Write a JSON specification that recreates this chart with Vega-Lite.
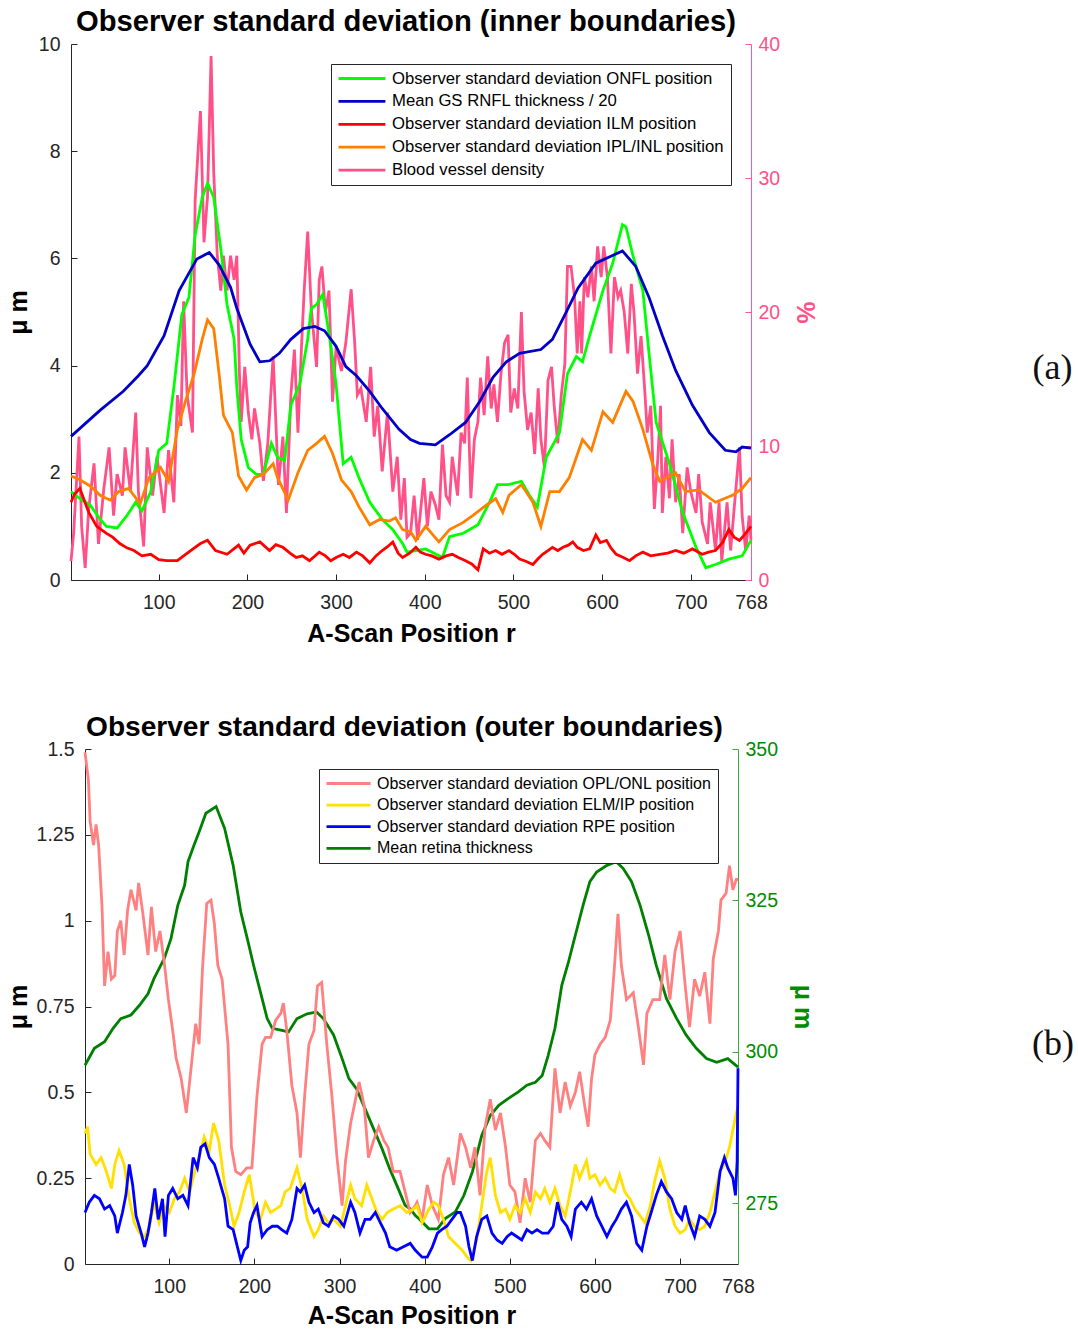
{
  "$schema": "https://vega.github.io/schema/vega-lite/v6.json",
  "padding": {"left": 6, "top": 7, "right": 5, "bottom": 0},
  "config": {
    "view": {"stroke": null},
    "font": "Liberation Sans",
    "title": {"font": "Liberation Sans", "fontSize": 28.5, "fontWeight": "bold", "color": "#000000", "offset": -3},
    "line": {"strokeWidth": 2.8},
    "axis": {"grid": false, "labelFont": "Liberation Sans", "labelFontSize": 19.5, "labelColor": "#262626", "domainColor": "#262626", "tickColor": "#262626", "tickSize": -6, "labelPadding": 17, "titleFont": "Liberation Sans", "titleFontSize": 25, "titleFontWeight": "bold", "titleColor": "#000000", "titlePadding": 7, "labelFlush": false, "labelOverlap": false, "domainWidth": 1, "tickWidth": 1},
    "axisX": {"labelPadding": 19, "titlePadding": 10},
    "legend": {"strokeColor": "#262626", "fillColor": "#ffffff", "padding": 6, "labelFont": "Liberation Sans", "labelFontSize": 16.7, "labelColor": "#000000", "symbolStrokeWidth": 2.5, "symbolSize": 196, "orient": "top-right", "offset": 20, "labelLimit": 600, "cornerRadius": 0}
  },
  "datasets": {
    "a_green": [{"r":1,"v":1.65},{"r":11,"v":1.52},{"r":23,"v":1.39},{"r":34,"v":1.13},{"r":41,"v":1.0},{"r":53,"v":0.97},{"r":64,"v":1.2},{"r":74,"v":1.45},{"r":81,"v":1.29},{"r":91,"v":1.65},{"r":100,"v":2.42},{"r":109,"v":2.55},{"r":117,"v":3.59},{"r":126,"v":4.95},{"r":134,"v":5.27},{"r":141,"v":6.43},{"r":149,"v":7.14},{"r":155,"v":7.4},{"r":162,"v":7.14},{"r":170,"v":6.17},{"r":177,"v":5.14},{"r":185,"v":4.49},{"r":188,"v":3.6},{"r":193,"v":2.62},{"r":201,"v":2.1},{"r":210,"v":1.97},{"r":218,"v":1.97},{"r":227,"v":2.55},{"r":234,"v":2.29},{"r":242,"v":2.23},{"r":249,"v":3.26},{"r":259,"v":3.65},{"r":268,"v":4.49},{"r":272,"v":5.07},{"r":278,"v":5.14},{"r":285,"v":5.33},{"r":293,"v":4.49},{"r":300,"v":3.65},{"r":308,"v":2.17},{"r":317,"v":2.29},{"r":326,"v":1.9},{"r":338,"v":1.45},{"r":352,"v":1.13},{"r":364,"v":0.94},{"r":375,"v":0.68},{"r":380,"v":0.52},{"r":390,"v":0.55},{"r":401,"v":0.58},{"r":420,"v":0.42},{"r":428,"v":0.81},{"r":443,"v":0.87},{"r":460,"v":1.03},{"r":473,"v":1.45},{"r":482,"v":1.78},{"r":494,"v":1.78},{"r":509,"v":1.84},{"r":518,"v":1.58},{"r":527,"v":1.36},{"r":537,"v":2.29},{"r":552,"v":2.75},{"r":561,"v":3.85},{"r":571,"v":4.17},{"r":578,"v":4.07},{"r":586,"v":4.56},{"r":601,"v":5.4},{"r":612,"v":5.91},{"r":623,"v":6.63},{"r":627,"v":6.59},{"r":635,"v":6.04},{"r":646,"v":5.4},{"r":653,"v":4.23},{"r":661,"v":2.94},{"r":676,"v":2.17},{"r":691,"v":1.26},{"r":706,"v":0.61},{"r":717,"v":0.23},{"r":728,"v":0.29},{"r":743,"v":0.39},{"r":758,"v":0.45},{"r":768,"v":0.74}],
    "a_blue": [{"r":1,"v":2.68},{"r":34,"v":3.17},{"r":60,"v":3.52},{"r":77,"v":3.81},{"r":87,"v":4.0},{"r":106,"v":4.56},{"r":123,"v":5.4},{"r":143,"v":5.99},{"r":157,"v":6.11},{"r":168,"v":5.88},{"r":181,"v":5.46},{"r":188,"v":5.07},{"r":203,"v":4.4},{"r":214,"v":4.07},{"r":225,"v":4.09},{"r":236,"v":4.23},{"r":249,"v":4.49},{"r":263,"v":4.69},{"r":276,"v":4.73},{"r":287,"v":4.65},{"r":300,"v":4.36},{"r":311,"v":3.98},{"r":323,"v":3.81},{"r":338,"v":3.52},{"r":352,"v":3.2},{"r":371,"v":2.81},{"r":384,"v":2.62},{"r":394,"v":2.55},{"r":412,"v":2.52},{"r":428,"v":2.71},{"r":446,"v":2.94},{"r":462,"v":3.33},{"r":477,"v":3.78},{"r":492,"v":4.07},{"r":507,"v":4.23},{"r":531,"v":4.3},{"r":544,"v":4.49},{"r":560,"v":5.01},{"r":573,"v":5.45},{"r":593,"v":5.91},{"r":623,"v":6.14},{"r":638,"v":5.85},{"r":653,"v":5.27},{"r":668,"v":4.56},{"r":683,"v":3.91},{"r":702,"v":3.26},{"r":721,"v":2.75},{"r":739,"v":2.42},{"r":751,"v":2.39},{"r":758,"v":2.48},{"r":768,"v":2.46}],
    "a_red": [{"r":1,"v":1.45},{"r":5,"v":1.6},{"r":11,"v":1.71},{"r":21,"v":1.26},{"r":30,"v":1.0},{"r":41,"v":0.87},{"r":48,"v":0.8},{"r":56,"v":0.68},{"r":64,"v":0.6},{"r":72,"v":0.55},{"r":81,"v":0.45},{"r":91,"v":0.48},{"r":100,"v":0.38},{"r":109,"v":0.36},{"r":121,"v":0.36},{"r":128,"v":0.45},{"r":136,"v":0.55},{"r":147,"v":0.68},{"r":155,"v":0.74},{"r":164,"v":0.55},{"r":177,"v":0.48},{"r":190,"v":0.65},{"r":196,"v":0.5},{"r":203,"v":0.65},{"r":214,"v":0.71},{"r":225,"v":0.55},{"r":232,"v":0.66},{"r":240,"v":0.61},{"r":248,"v":0.5},{"r":255,"v":0.42},{"r":262,"v":0.45},{"r":270,"v":0.36},{"r":281,"v":0.52},{"r":288,"v":0.45},{"r":294,"v":0.36},{"r":300,"v":0.42},{"r":308,"v":0.48},{"r":315,"v":0.42},{"r":323,"v":0.52},{"r":330,"v":0.45},{"r":338,"v":0.32},{"r":345,"v":0.45},{"r":352,"v":0.55},{"r":358,"v":0.62},{"r":364,"v":0.71},{"r":370,"v":0.5},{"r":375,"v":0.42},{"r":383,"v":0.5},{"r":390,"v":0.61},{"r":395,"v":0.52},{"r":401,"v":0.48},{"r":408,"v":0.45},{"r":416,"v":0.39},{"r":424,"v":0.45},{"r":431,"v":0.48},{"r":438,"v":0.42},{"r":446,"v":0.36},{"r":453,"v":0.3},{"r":460,"v":0.19},{"r":466,"v":0.58},{"r":473,"v":0.5},{"r":480,"v":0.55},{"r":487,"v":0.48},{"r":495,"v":0.55},{"r":501,"v":0.48},{"r":507,"v":0.39},{"r":514,"v":0.35},{"r":522,"v":0.29},{"r":528,"v":0.4},{"r":533,"v":0.48},{"r":539,"v":0.55},{"r":544,"v":0.61},{"r":550,"v":0.55},{"r":556,"v":0.61},{"r":562,"v":0.65},{"r":567,"v":0.71},{"r":572,"v":0.61},{"r":579,"v":0.55},{"r":586,"v":0.58},{"r":593,"v":0.84},{"r":598,"v":0.7},{"r":605,"v":0.74},{"r":610,"v":0.6},{"r":616,"v":0.48},{"r":624,"v":0.42},{"r":631,"v":0.36},{"r":638,"v":0.45},{"r":646,"v":0.52},{"r":655,"v":0.45},{"r":665,"v":0.48},{"r":674,"v":0.5},{"r":683,"v":0.55},{"r":692,"v":0.5},{"r":702,"v":0.58},{"r":713,"v":0.48},{"r":720,"v":0.52},{"r":728,"v":0.55},{"r":736,"v":0.7},{"r":743,"v":0.94},{"r":749,"v":0.8},{"r":755,"v":0.74},{"r":761,"v":0.85},{"r":768,"v":1.0}],
    "a_orange": [{"r":1,"v":1.94},{"r":11,"v":1.87},{"r":23,"v":1.75},{"r":34,"v":1.58},{"r":45,"v":1.49},{"r":55,"v":1.65},{"r":66,"v":1.71},{"r":79,"v":1.42},{"r":89,"v":1.91},{"r":102,"v":2.1},{"r":111,"v":1.84},{"r":121,"v":2.81},{"r":130,"v":3.33},{"r":140,"v":3.85},{"r":149,"v":4.49},{"r":155,"v":4.85},{"r":162,"v":4.69},{"r":168,"v":3.85},{"r":173,"v":3.07},{"r":183,"v":2.75},{"r":190,"v":1.94},{"r":199,"v":1.68},{"r":208,"v":1.91},{"r":218,"v":1.97},{"r":229,"v":2.17},{"r":234,"v":1.91},{"r":246,"v":1.49},{"r":257,"v":2.0},{"r":268,"v":2.42},{"r":278,"v":2.55},{"r":287,"v":2.68},{"r":296,"v":2.36},{"r":306,"v":1.87},{"r":317,"v":1.65},{"r":326,"v":1.36},{"r":338,"v":1.03},{"r":349,"v":1.13},{"r":360,"v":1.1},{"r":367,"v":1.16},{"r":375,"v":0.94},{"r":384,"v":0.9},{"r":390,"v":0.74},{"r":401,"v":1.0},{"r":416,"v":0.71},{"r":428,"v":0.94},{"r":443,"v":1.07},{"r":454,"v":1.2},{"r":469,"v":1.39},{"r":480,"v":1.52},{"r":488,"v":1.26},{"r":495,"v":1.58},{"r":509,"v":1.78},{"r":522,"v":1.45},{"r":531,"v":1.0},{"r":541,"v":1.65},{"r":552,"v":1.65},{"r":563,"v":1.91},{"r":571,"v":2.29},{"r":578,"v":2.62},{"r":588,"v":2.42},{"r":601,"v":3.14},{"r":612,"v":2.94},{"r":627,"v":3.52},{"r":635,"v":3.33},{"r":646,"v":2.81},{"r":657,"v":2.17},{"r":665,"v":1.84},{"r":683,"v":2.0},{"r":694,"v":1.65},{"r":709,"v":1.68},{"r":728,"v":1.45},{"r":747,"v":1.58},{"r":758,"v":1.71},{"r":768,"v":1.91}],
    "a_pink": [{"r":1,"v":1.4},{"r":4,"v":3.5},{"r":10,"v":10.7},{"r":13,"v":4.0},{"r":17,"v":0.9},{"r":21,"v":5.3},{"r":27,"v":8.7},{"r":32,"v":2.7},{"r":38,"v":6.8},{"r":44,"v":9.9},{"r":49,"v":4.8},{"r":53,"v":7.9},{"r":59,"v":6.3},{"r":62,"v":9.9},{"r":68,"v":6.6},{"r":74,"v":12.5},{"r":77,"v":6.6},{"r":83,"v":2.5},{"r":87,"v":9.9},{"r":93,"v":6.3},{"r":98,"v":9.2},{"r":106,"v":5.0},{"r":111,"v":9.7},{"r":117,"v":5.8},{"r":121,"v":13.8},{"r":125,"v":11.5},{"r":128,"v":20.8},{"r":132,"v":13.8},{"r":138,"v":11.0},{"r":141,"v":28.3},{"r":147,"v":35.0},{"r":151,"v":25.2},{"r":155,"v":28.6},{"r":159,"v":39.1},{"r":162,"v":30.4},{"r":166,"v":24.2},{"r":170,"v":21.6},{"r":173,"v":24.2},{"r":177,"v":21.6},{"r":181,"v":24.2},{"r":185,"v":22.4},{"r":188,"v":24.2},{"r":191,"v":15.4},{"r":193,"v":11.8},{"r":197,"v":15.9},{"r":201,"v":12.5},{"r":205,"v":10.5},{"r":208,"v":12.8},{"r":214,"v":10.2},{"r":218,"v":7.4},{"r":223,"v":10.2},{"r":229,"v":16.7},{"r":235,"v":7.1},{"r":240,"v":10.7},{"r":244,"v":5.0},{"r":249,"v":13.8},{"r":253,"v":17.2},{"r":257,"v":11.0},{"r":261,"v":17.4},{"r":264,"v":21.6},{"r":268,"v":26.0},{"r":272,"v":20.3},{"r":278,"v":15.9},{"r":281,"v":22.4},{"r":284,"v":23.4},{"r":288,"v":20.0},{"r":292,"v":21.6},{"r":296,"v":13.3},{"r":300,"v":17.4},{"r":306,"v":15.6},{"r":311,"v":17.7},{"r":317,"v":21.7},{"r":321,"v":17.7},{"r":324,"v":13.8},{"r":328,"v":14.3},{"r":334,"v":11.8},{"r":339,"v":15.9},{"r":343,"v":10.7},{"r":347,"v":13.0},{"r":352,"v":8.1},{"r":358,"v":12.5},{"r":364,"v":6.6},{"r":369,"v":9.2},{"r":373,"v":4.5},{"r":377,"v":7.6},{"r":380,"v":3.2},{"r":384,"v":3.5},{"r":388,"v":6.3},{"r":392,"v":3.0},{"r":396,"v":5.6},{"r":399,"v":7.6},{"r":403,"v":4.0},{"r":407,"v":6.6},{"r":412,"v":5.6},{"r":416,"v":4.5},{"r":420,"v":10.1},{"r":424,"v":6.3},{"r":428,"v":5.8},{"r":431,"v":9.2},{"r":437,"v":6.3},{"r":441,"v":11.0},{"r":445,"v":10.2},{"r":448,"v":15.1},{"r":452,"v":6.1},{"r":456,"v":10.5},{"r":460,"v":11.8},{"r":463,"v":15.1},{"r":467,"v":12.3},{"r":471,"v":16.7},{"r":475,"v":12.8},{"r":478,"v":14.6},{"r":482,"v":11.8},{"r":486,"v":15.4},{"r":490,"v":17.7},{"r":494,"v":18.3},{"r":497,"v":12.5},{"r":501,"v":14.3},{"r":505,"v":12.8},{"r":509,"v":20.0},{"r":512,"v":14.1},{"r":516,"v":11.2},{"r":520,"v":12.5},{"r":524,"v":9.4},{"r":528,"v":14.3},{"r":531,"v":10.5},{"r":535,"v":8.4},{"r":539,"v":14.9},{"r":543,"v":15.9},{"r":546,"v":13.0},{"r":550,"v":10.2},{"r":554,"v":13.8},{"r":558,"v":16.1},{"r":561,"v":23.4},{"r":565,"v":23.4},{"r":569,"v":21.1},{"r":572,"v":16.9},{"r":575,"v":20.8},{"r":577,"v":16.9},{"r":580,"v":22.6},{"r":584,"v":21.1},{"r":588,"v":23.4},{"r":591,"v":20.8},{"r":595,"v":24.9},{"r":599,"v":22.6},{"r":602,"v":24.9},{"r":606,"v":22.6},{"r":610,"v":16.9},{"r":614,"v":22.6},{"r":618,"v":21.1},{"r":621,"v":21.6},{"r":625,"v":20.0},{"r":629,"v":16.9},{"r":633,"v":22.1},{"r":636,"v":20.0},{"r":640,"v":15.4},{"r":644,"v":18.2},{"r":648,"v":14.3},{"r":651,"v":11.0},{"r":655,"v":13.0},{"r":659,"v":5.3},{"r":663,"v":9.2},{"r":666,"v":13.0},{"r":668,"v":5.0},{"r":672,"v":9.2},{"r":676,"v":6.1},{"r":679,"v":10.5},{"r":683,"v":5.8},{"r":687,"v":7.9},{"r":691,"v":3.5},{"r":696,"v":8.4},{"r":700,"v":6.6},{"r":706,"v":5.0},{"r":709,"v":7.9},{"r":713,"v":4.3},{"r":719,"v":2.7},{"r":722,"v":5.8},{"r":728,"v":2.2},{"r":732,"v":5.8},{"r":735,"v":1.4},{"r":741,"v":5.8},{"r":745,"v":2.2},{"r":750,"v":6.1},{"r":755,"v":9.9},{"r":758,"v":4.8},{"r":762,"v":2.2},{"r":766,"v":4.8},{"r":768,"v":3.0}],
    "b_salmon": [{"r":1,"v":1.49},{"r":3,"v":1.45},{"r":5,"v":1.41},{"r":7,"v":1.29},{"r":11,"v":1.22},{"r":14,"v":1.28},{"r":17,"v":1.22},{"r":21,"v":1.04},{"r":24,"v":0.81},{"r":28,"v":0.91},{"r":32,"v":0.83},{"r":36,"v":0.84},{"r":39,"v":0.97},{"r":43,"v":1.0},{"r":47,"v":0.9},{"r":51,"v":1.03},{"r":55,"v":1.09},{"r":61,"v":1.03},{"r":64,"v":1.11},{"r":69,"v":1.02},{"r":75,"v":0.9},{"r":79,"v":1.04},{"r":84,"v":0.91},{"r":89,"v":0.97},{"r":94,"v":0.88},{"r":99,"v":0.77},{"r":104,"v":0.68},{"r":108,"v":0.6},{"r":114,"v":0.54},{"r":120,"v":0.44},{"r":126,"v":0.58},{"r":131,"v":0.7},{"r":135,"v":0.64},{"r":139,"v":0.86},{"r":144,"v":1.05},{"r":149,"v":1.06},{"r":153,"v":0.99},{"r":157,"v":0.87},{"r":162,"v":0.83},{"r":169,"v":0.64},{"r":173,"v":0.34},{"r":178,"v":0.27},{"r":184,"v":0.26},{"r":191,"v":0.28},{"r":197,"v":0.28},{"r":203,"v":0.49},{"r":209,"v":0.64},{"r":213,"v":0.66},{"r":219,"v":0.66},{"r":225,"v":0.71},{"r":231,"v":0.73},{"r":234,"v":0.76},{"r":238,"v":0.68},{"r":244,"v":0.52},{"r":250,"v":0.44},{"r":254,"v":0.31},{"r":259,"v":0.49},{"r":264,"v":0.64},{"r":270,"v":0.68},{"r":274,"v":0.81},{"r":279,"v":0.82},{"r":285,"v":0.64},{"r":291,"v":0.49},{"r":297,"v":0.31},{"r":303,"v":0.17},{"r":307,"v":0.3},{"r":313,"v":0.41},{"r":318,"v":0.47},{"r":323,"v":0.53},{"r":329,"v":0.46},{"r":334,"v":0.31},{"r":340,"v":0.36},{"r":346,"v":0.4},{"r":352,"v":0.36},{"r":357,"v":0.34},{"r":363,"v":0.27},{"r":371,"v":0.27},{"r":377,"v":0.21},{"r":383,"v":0.15},{"r":389,"v":0.17},{"r":391,"v":0.18},{"r":397,"v":0.13},{"r":403,"v":0.23},{"r":409,"v":0.17},{"r":416,"v":0.13},{"r":422,"v":0.26},{"r":428,"v":0.31},{"r":434,"v":0.23},{"r":442,"v":0.38},{"r":448,"v":0.34},{"r":454,"v":0.28},{"r":459,"v":0.34},{"r":465,"v":0.2},{"r":471,"v":0.4},{"r":477,"v":0.48},{"r":483,"v":0.39},{"r":489,"v":0.44},{"r":495,"v":0.34},{"r":500,"v":0.23},{"r":506,"v":0.21},{"r":512,"v":0.12},{"r":518,"v":0.25},{"r":524,"v":0.18},{"r":530,"v":0.36},{"r":536,"v":0.38},{"r":541,"v":0.36},{"r":547,"v":0.34},{"r":553,"v":0.57},{"r":559,"v":0.44},{"r":565,"v":0.53},{"r":571,"v":0.46},{"r":577,"v":0.5},{"r":582,"v":0.56},{"r":588,"v":0.46},{"r":592,"v":0.4},{"r":596,"v":0.54},{"r":600,"v":0.61},{"r":606,"v":0.64},{"r":612,"v":0.66},{"r":618,"v":0.71},{"r":623,"v":0.87},{"r":627,"v":1.02},{"r":631,"v":0.87},{"r":637,"v":0.77},{"r":645,"v":0.79},{"r":651,"v":0.69},{"r":657,"v":0.58},{"r":661,"v":0.73},{"r":668,"v":0.77},{"r":676,"v":0.77},{"r":682,"v":0.9},{"r":688,"v":0.77},{"r":694,"v":0.91},{"r":700,"v":0.97},{"r":706,"v":0.81},{"r":711,"v":0.69},{"r":717,"v":0.83},{"r":723,"v":0.78},{"r":729,"v":0.85},{"r":735,"v":0.7},{"r":739,"v":0.89},{"r":745,"v":0.97},{"r":748,"v":1.06},{"r":754,"v":1.08},{"r":758,"v":1.16},{"r":762,"v":1.09},{"r":766,"v":1.12},{"r":768,"v":1.12}],
    "b_yellow": [{"r":1,"v":0.38},{"r":4,"v":0.4},{"r":7,"v":0.32},{"r":14,"v":0.29},{"r":20,"v":0.31},{"r":26,"v":0.27},{"r":32,"v":0.22},{"r":36,"v":0.29},{"r":41,"v":0.33},{"r":47,"v":0.29},{"r":53,"v":0.19},{"r":59,"v":0.12},{"r":65,"v":0.09},{"r":71,"v":0.08},{"r":77,"v":0.11},{"r":82,"v":0.18},{"r":88,"v":0.12},{"r":94,"v":0.17},{"r":100,"v":0.15},{"r":106,"v":0.19},{"r":112,"v":0.21},{"r":118,"v":0.25},{"r":124,"v":0.21},{"r":129,"v":0.26},{"r":135,"v":0.31},{"r":141,"v":0.37},{"r":147,"v":0.33},{"r":152,"v":0.41},{"r":158,"v":0.36},{"r":165,"v":0.23},{"r":171,"v":0.17},{"r":176,"v":0.11},{"r":182,"v":0.15},{"r":188,"v":0.21},{"r":194,"v":0.26},{"r":201,"v":0.15},{"r":207,"v":0.13},{"r":213,"v":0.18},{"r":219,"v":0.15},{"r":225,"v":0.16},{"r":231,"v":0.17},{"r":236,"v":0.21},{"r":242,"v":0.22},{"r":250,"v":0.28},{"r":256,"v":0.22},{"r":262,"v":0.13},{"r":270,"v":0.08},{"r":275,"v":0.1},{"r":281,"v":0.14},{"r":287,"v":0.12},{"r":293,"v":0.13},{"r":301,"v":0.11},{"r":307,"v":0.17},{"r":313,"v":0.23},{"r":318,"v":0.19},{"r":326,"v":0.17},{"r":332,"v":0.23},{"r":338,"v":0.19},{"r":344,"v":0.15},{"r":350,"v":0.13},{"r":356,"v":0.15},{"r":363,"v":0.16},{"r":371,"v":0.17},{"r":379,"v":0.15},{"r":387,"v":0.16},{"r":391,"v":0.17},{"r":397,"v":0.12},{"r":405,"v":0.16},{"r":411,"v":0.18},{"r":416,"v":0.17},{"r":422,"v":0.13},{"r":428,"v":0.08},{"r":436,"v":0.06},{"r":444,"v":0.04},{"r":450,"v":0.02},{"r":454,"v":0.01},{"r":461,"v":0.07},{"r":467,"v":0.17},{"r":473,"v":0.27},{"r":477,"v":0.31},{"r":483,"v":0.2},{"r":489,"v":0.15},{"r":495,"v":0.16},{"r":500,"v":0.13},{"r":506,"v":0.17},{"r":512,"v":0.15},{"r":518,"v":0.19},{"r":524,"v":0.15},{"r":530,"v":0.21},{"r":536,"v":0.19},{"r":541,"v":0.22},{"r":547,"v":0.18},{"r":553,"v":0.22},{"r":559,"v":0.17},{"r":565,"v":0.14},{"r":571,"v":0.21},{"r":577,"v":0.29},{"r":582,"v":0.25},{"r":590,"v":0.3},{"r":594,"v":0.25},{"r":600,"v":0.26},{"r":606,"v":0.23},{"r":612,"v":0.25},{"r":618,"v":0.22},{"r":623,"v":0.21},{"r":629,"v":0.26},{"r":635,"v":0.21},{"r":641,"v":0.19},{"r":647,"v":0.16},{"r":653,"v":0.14},{"r":659,"v":0.12},{"r":665,"v":0.17},{"r":670,"v":0.24},{"r":676,"v":0.3},{"r":682,"v":0.25},{"r":688,"v":0.16},{"r":694,"v":0.11},{"r":700,"v":0.09},{"r":706,"v":0.1},{"r":711,"v":0.13},{"r":717,"v":0.11},{"r":723,"v":0.1},{"r":729,"v":0.11},{"r":735,"v":0.15},{"r":741,"v":0.21},{"r":747,"v":0.27},{"r":752,"v":0.29},{"r":758,"v":0.34},{"r":762,"v":0.39},{"r":766,"v":0.44},{"r":768,"v":0.46}],
    "b_blue": [{"r":1,"v":0.15},{"r":6,"v":0.18},{"r":12,"v":0.2},{"r":18,"v":0.19},{"r":24,"v":0.16},{"r":30,"v":0.17},{"r":36,"v":0.14},{"r":39,"v":0.09},{"r":45,"v":0.15},{"r":49,"v":0.2},{"r":53,"v":0.29},{"r":57,"v":0.23},{"r":61,"v":0.14},{"r":67,"v":0.09},{"r":71,"v":0.05},{"r":75,"v":0.09},{"r":79,"v":0.15},{"r":83,"v":0.22},{"r":87,"v":0.13},{"r":92,"v":0.19},{"r":95,"v":0.08},{"r":99,"v":0.2},{"r":104,"v":0.22},{"r":110,"v":0.19},{"r":116,"v":0.2},{"r":122,"v":0.17},{"r":128,"v":0.31},{"r":133,"v":0.28},{"r":137,"v":0.34},{"r":142,"v":0.35},{"r":147,"v":0.31},{"r":153,"v":0.29},{"r":158,"v":0.25},{"r":165,"v":0.19},{"r":169,"v":0.11},{"r":175,"v":0.1},{"r":180,"v":0.05},{"r":184,"v":0.01},{"r":188,"v":0.04},{"r":192,"v":0.05},{"r":195,"v":0.12},{"r":199,"v":0.15},{"r":203,"v":0.17},{"r":209,"v":0.08},{"r":215,"v":0.1},{"r":221,"v":0.11},{"r":227,"v":0.11},{"r":232,"v":0.1},{"r":238,"v":0.09},{"r":244,"v":0.13},{"r":250,"v":0.22},{"r":254,"v":0.21},{"r":259,"v":0.23},{"r":264,"v":0.18},{"r":270,"v":0.15},{"r":275,"v":0.16},{"r":281,"v":0.12},{"r":287,"v":0.11},{"r":293,"v":0.14},{"r":299,"v":0.13},{"r":305,"v":0.11},{"r":313,"v":0.18},{"r":318,"v":0.15},{"r":324,"v":0.09},{"r":330,"v":0.13},{"r":336,"v":0.13},{"r":342,"v":0.15},{"r":348,"v":0.12},{"r":354,"v":0.09},{"r":359,"v":0.05},{"r":367,"v":0.04},{"r":375,"v":0.05},{"r":383,"v":0.06},{"r":389,"v":0.04},{"r":397,"v":0.02},{"r":403,"v":0.02},{"r":409,"v":0.05},{"r":415,"v":0.09},{"r":420,"v":0.1},{"r":426,"v":0.11},{"r":432,"v":0.13},{"r":438,"v":0.15},{"r":442,"v":0.15},{"r":448,"v":0.11},{"r":452,"v":0.05},{"r":456,"v":0.01},{"r":461,"v":0.08},{"r":467,"v":0.13},{"r":473,"v":0.14},{"r":479,"v":0.09},{"r":485,"v":0.07},{"r":491,"v":0.06},{"r":497,"v":0.08},{"r":502,"v":0.09},{"r":508,"v":0.08},{"r":514,"v":0.07},{"r":520,"v":0.1},{"r":526,"v":0.09},{"r":532,"v":0.1},{"r":538,"v":0.09},{"r":545,"v":0.09},{"r":551,"v":0.11},{"r":556,"v":0.18},{"r":561,"v":0.13},{"r":567,"v":0.11},{"r":572,"v":0.08},{"r":577,"v":0.16},{"r":584,"v":0.18},{"r":590,"v":0.16},{"r":596,"v":0.19},{"r":602,"v":0.14},{"r":608,"v":0.11},{"r":614,"v":0.08},{"r":620,"v":0.11},{"r":625,"v":0.13},{"r":631,"v":0.16},{"r":637,"v":0.18},{"r":643,"v":0.14},{"r":649,"v":0.06},{"r":655,"v":0.04},{"r":661,"v":0.11},{"r":666,"v":0.15},{"r":672,"v":0.2},{"r":678,"v":0.24},{"r":684,"v":0.21},{"r":690,"v":0.19},{"r":696,"v":0.15},{"r":702,"v":0.13},{"r":706,"v":0.17},{"r":711,"v":0.12},{"r":717,"v":0.08},{"r":723,"v":0.14},{"r":729,"v":0.13},{"r":735,"v":0.11},{"r":741,"v":0.15},{"r":747,"v":0.27},{"r":752,"v":0.31},{"r":756,"v":0.28},{"r":762,"v":0.25},{"r":765,"v":0.2},{"r":767,"v":0.3},{"r":768,"v":0.57}],
    "b_green": [{"r":1,"v":297.8},{"r":12,"v":300.6},{"r":24,"v":301.7},{"r":34,"v":303.9},{"r":43,"v":305.5},{"r":55,"v":306.1},{"r":65,"v":307.7},{"r":75,"v":309.6},{"r":82,"v":312.1},{"r":94,"v":315.4},{"r":102,"v":318.7},{"r":110,"v":324.2},{"r":118,"v":327.5},{"r":122,"v":331.4},{"r":129,"v":334.1},{"r":135,"v":336.3},{"r":143,"v":339.4},{"r":155,"v":340.5},{"r":165,"v":336.9},{"r":175,"v":330.8},{"r":184,"v":323.1},{"r":192,"v":318.5},{"r":199,"v":314.3},{"r":207,"v":309.9},{"r":215,"v":305.5},{"r":221,"v":303.9},{"r":231,"v":303.6},{"r":240,"v":303.3},{"r":250,"v":305.5},{"r":262,"v":306.3},{"r":273,"v":306.6},{"r":281,"v":305.5},{"r":293,"v":302.8},{"r":303,"v":298.9},{"r":311,"v":295.6},{"r":320,"v":293.9},{"r":330,"v":290.6},{"r":340,"v":287.3},{"r":350,"v":284.0},{"r":359,"v":280.7},{"r":369,"v":277.4},{"r":377,"v":274.7},{"r":383,"v":274.1},{"r":389,"v":273.0},{"r":393,"v":272.5},{"r":405,"v":270.8},{"r":415,"v":270.8},{"r":424,"v":272.5},{"r":436,"v":273.6},{"r":446,"v":276.3},{"r":456,"v":280.2},{"r":467,"v":286.2},{"r":477,"v":289.5},{"r":487,"v":291.2},{"r":498,"v":292.3},{"r":510,"v":293.4},{"r":520,"v":294.5},{"r":530,"v":295.0},{"r":538,"v":296.1},{"r":545,"v":299.4},{"r":553,"v":303.9},{"r":561,"v":311.0},{"r":569,"v":314.9},{"r":577,"v":319.3},{"r":586,"v":324.2},{"r":594,"v":328.1},{"r":602,"v":329.7},{"r":614,"v":330.8},{"r":625,"v":331.4},{"r":633,"v":330.3},{"r":643,"v":328.1},{"r":653,"v":324.2},{"r":663,"v":319.3},{"r":672,"v":314.3},{"r":684,"v":308.8},{"r":696,"v":305.5},{"r":707,"v":302.8},{"r":719,"v":300.6},{"r":731,"v":298.9},{"r":743,"v":298.3},{"r":756,"v":298.9},{"r":768,"v":297.5}],
    "a_label": [{"r": 1108, "v": 3.955, "t": "(a)"}],
    "b_label": [{"r": 1138, "v": 0.641, "t": "(b)"}]
  },
  "vconcat": [
    {
      "width": 680,
      "height": 536,
      "title": {"text": "Observer standard deviation (inner boundaries)", "fontSize": 29.2, "dx": -5},
      "encoding": {
        "x": {"field": "r", "type": "quantitative", "scale": {"domain": [1, 768], "nice": false, "zero": false}, "axis": {"values": [100, 200, 300, 400, 500, 600, 700, 768], "title": "A-Scan Position r"}}
      },
      "layer": [
        {
          "data": {"name": "a_pink"},
          "mark": {"type": "line"},
          "encoding": {
            "y": {"field": "v", "type": "quantitative", "scale": {"domain": [0, 40], "nice": false}, "axis": {"orient": "right", "values": [0, 10, 20, 30, 40], "title": "%", "domainColor": "#ff5c8d", "tickColor": "#ff5c8d", "labelColor": "#ff5088", "titleColor": "#ff5088", "labelPadding": 13, "titlePadding": 12}},
            "color": {"datum": "Blood vessel density", "type": "nominal", "scale": {"domain": ["Observer standard deviation ONFL position", "Mean GS RNFL thickness / 20", "Observer standard deviation ILM position", "Observer standard deviation IPL/INL position", "Blood vessel density"], "range": ["#00ff00", "#0000c8", "#ff0000", "#ff8000", "#ff5088"]}, "legend": {"title": null, "symbolType": "M-1,0H5.7", "rowPadding": 4.9, "labelOffset": 38}}
          }
        },
        {
          "encoding": {
            "y": {"field": "v", "type": "quantitative", "scale": {"domain": [0, 10], "nice": false}, "axis": {"orient": "left", "values": [0, 2, 4, 6, 8, 10], "title": "μ m"}}
          },
          "layer": [
            {"data": {"name": "a_green"}, "mark": {"type": "line"}, "encoding": {"color": {"datum": "Observer standard deviation ONFL position", "type": "nominal"}}},
            {"data": {"name": "a_blue"}, "mark": {"type": "line"}, "encoding": {"color": {"datum": "Mean GS RNFL thickness / 20", "type": "nominal"}}},
            {"data": {"name": "a_red"}, "mark": {"type": "line"}, "encoding": {"color": {"datum": "Observer standard deviation ILM position", "type": "nominal"}}},
            {"data": {"name": "a_orange"}, "mark": {"type": "line"}, "encoding": {"color": {"datum": "Observer standard deviation IPL/INL position", "type": "nominal"}}},
            {"data": {"name": "a_label"}, "mark": {"type": "text", "font": "Liberation Serif", "fontSize": 36, "align": "center", "baseline": "middle", "fill": "#111111", "clip": false}, "encoding": {"text": {"field": "t", "type": "nominal"}}}
          ]
        }
      ],
      "resolve": {"scale": {"y": "independent"}}
    },
    {
      "width": 667,
      "height": 515,
      "title": {"text": "Observer standard deviation (outer boundaries)", "fontSize": 28.1},
      "encoding": {
        "x": {"field": "r", "type": "quantitative", "scale": {"domain": [1, 768], "range": [14, 667], "nice": false, "zero": false}, "axis": {"values": [100, 200, 300, 400, 500, 600, 700, 768], "title": "A-Scan Position r", "titlePadding": 8}}
      },
      "layer": [
        {
          "data": {"name": "b_green"},
          "mark": {"type": "line"},
          "encoding": {
            "y": {"field": "v", "type": "quantitative", "scale": {"domain": [265, 350], "nice": false, "zero": false}, "axis": {"orient": "right", "values": [275, 300, 325, 350], "title": "μ m", "domainColor": "#3cab3c", "tickColor": "#3cab3c", "labelColor": "#008c00", "titleColor": "#008c00", "labelPadding": 13, "titlePadding": 12}},
            "color": {"datum": "Mean retina thickness", "type": "nominal", "scale": {"domain": ["Observer standard deviation OPL/ONL position", "Observer standard deviation ELM/IP position", "Observer standard deviation RPE position", "Mean retina thickness"], "range": ["#ff8080", "#ffe000", "#0000ff", "#008000"]}, "legend": {"title": null, "symbolType": "M-1,0H5.3", "rowPadding": 4.6, "labelOffset": 35, "labelFontSize": 16}}
          }
        },
        {
          "encoding": {
            "y": {"field": "v", "type": "quantitative", "scale": {"domain": [0, 1.5], "nice": false}, "axis": {"orient": "left", "offset": -14, "values": [0, 0.25, 0.5, 0.75, 1, 1.25, 1.5], "labelExpr": "'' + datum.value", "title": "μ m", "titlePadding": 5}}
          },
          "layer": [
            {"data": {"name": "b_salmon"}, "mark": {"type": "line"}, "encoding": {"color": {"datum": "Observer standard deviation OPL/ONL position", "type": "nominal"}}},
            {"data": {"name": "b_yellow"}, "mark": {"type": "line"}, "encoding": {"color": {"datum": "Observer standard deviation ELM/IP position", "type": "nominal"}}},
            {"data": {"name": "b_blue"}, "mark": {"type": "line"}, "encoding": {"color": {"datum": "Observer standard deviation RPE position", "type": "nominal"}}},
            {"data": {"name": "b_label"}, "mark": {"type": "text", "font": "Liberation Serif", "fontSize": 36, "align": "center", "baseline": "middle", "fill": "#111111", "clip": false}, "encoding": {"text": {"field": "t", "type": "nominal"}}}
          ]
        }
      ],
      "resolve": {"scale": {"y": "independent"}}
    }
  ],
  "spacing": 66,
  "resolve": {"scale": {"color": "independent", "x": "independent", "y": "independent"}, "legend": {"color": "independent"}}
}
